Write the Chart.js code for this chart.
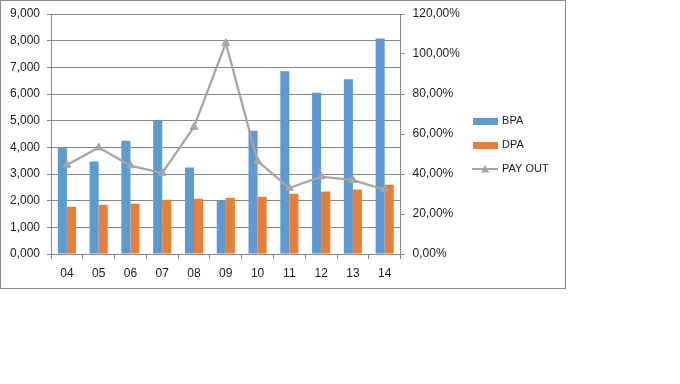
<!DOCTYPE html>
<html><head><meta charset="utf-8">
<script src="https://cdn.jsdelivr.net/npm/chart.js@4/dist/chart.umd.min.js"></script>
<style>
html,body{margin:0;padding:0;background:#fff;}
#box{position:absolute;left:0;top:0;width:566px;height:289px;border:1px solid #8a8a8a;box-sizing:border-box;}
#c{display:block;}
</style></head>
<body>
<div id="box"><canvas id="c" width="564" height="287"></canvas></div>
<script>
const categories = ['04','05','06','07','08','09','10','11','12','13','14'];
const bpa = [3.98, 3.47, 4.25, 5.00, 3.24, 1.99, 4.62, 6.85, 6.05, 6.55, 8.08];
const dpa = [1.77, 1.85, 1.88, 2.03, 2.07, 2.11, 2.15, 2.26, 2.34, 2.42, 2.60];
const payout = [44.5, 53.2, 44.2, 40.5, 63.5, 105.5, 46.5, 33.0, 38.7, 36.9, 32.2];
const leftTicks = [0,1,2,3,4,5,6,7,8,9];
const rightTicks = [0,20,40,60,80,100,120];

const BLUE = '#5B9BD5', ORANGE = '#ED7D31', GREY = '#A5A5A5';
const GRID = '#878787', TXT = '#1a1a1a';
const FONT = "'Liberation Sans', Arial, sans-serif";

function boxImg(color){
  const c = document.createElement('canvas'); c.width = 25; c.height = 7;
  const g = c.getContext('2d'); g.fillStyle = color; g.fillRect(0,0,25,7); return c;
}
function lineImg(){
  const c = document.createElement('canvas'); c.width = 26; c.height = 10;
  const g = c.getContext('2d');
  g.strokeStyle = GREY; g.lineWidth = 2; g.beginPath(); g.moveTo(0,5); g.lineTo(26,5); g.stroke();
  g.fillStyle = GREY; g.beginPath(); g.moveTo(13,1); g.lineTo(17,8.5); g.lineTo(9,8.5); g.closePath(); g.fill();
  return c;
}
const legendImgs = [boxImg(BLUE), boxImg(ORANGE), lineImg()];

const chart = new Chart(document.getElementById('c'), {
  type: 'bar',
  data: {
    labels: categories,
    datasets: [
      {label:'BPA', data:bpa, backgroundColor:BLUE, yAxisID:'y', order:2, categoryPercentage:0.57, barPercentage:1.0},
      {label:'DPA', data:dpa, backgroundColor:ORANGE, yAxisID:'y', order:2, categoryPercentage:0.57, barPercentage:1.0},
      {label:'PAY OUT', type:'line', data:payout, yAxisID:'y1', order:0, borderColor:GREY, backgroundColor:GREY,
       borderWidth:2.25, pointStyle:'triangle', pointRadius:4.5, pointBackgroundColor:GREY, pointBorderColor:GREY,
       pointBorderWidth:1, tension:0, fill:false}
    ]
  },
  options: {
    responsive:false, animation:false, devicePixelRatio:1,
    layout:{padding:{top:13,left:0,right:12.5,bottom:0}},
    plugins:{
      tooltip:{enabled:false},
      legend:{
        position:'right', align:'start',
        title:{display:true, text:'', font:{size:10}, padding:{top:76.5,bottom:0}},
        labels:{
          usePointStyle:true, pointStyleWidth:23, padding:13,
          color:TXT, font:{family:FONT, size:11},
          generateLabels(chart){
            return chart.data.datasets.map((d,i)=>({text:d.label, pointStyle:legendImgs[i], datasetIndex:i,
              fillStyle:'transparent', strokeStyle:'transparent', lineWidth:0, fontColor:TXT, hidden:false}));
          }
        }
      }
    },
    scales:{
      x:{
        grid:{display:true, drawOnChartArea:false, drawTicks:true, tickLength:5, color:GRID, offset:true},
        border:{display:true, color:GRID},
        ticks:{color:TXT, font:{family:FONT,size:12}, padding:7, maxRotation:0},
        afterFit(s){ s.height = 34; }
      },
      y:{
        position:'left', min:0, max:9,
        afterBuildTicks(s){ s.ticks = leftTicks.map(v=>({value:v})); },
        grid:{color:GRID, tickLength:4, drawTicks:true},
        border:{display:true, color:GRID},
        ticks:{color:TXT, font:{family:FONT,size:12}, padding:7,
          callback:v=>v.toFixed(3).replace('.',',')},
        afterFit(s){ s.width = 50; s.paddingTop = 0; s.paddingBottom = 0; }
      },
      y1:{
        position:'right', min:0, max:120,
        afterBuildTicks(s){ s.ticks = rightTicks.map(v=>({value:v})); },
        grid:{drawOnChartArea:false, drawTicks:true, tickLength:4, color:GRID},
        border:{display:true, color:GRID},
        ticks:{color:TXT, font:{family:FONT,size:12}, padding:8,
          callback:v=>v.toFixed(2).replace('.',',')+'%'},
        afterFit(s){ s.width = 60; s.paddingTop = 0; s.paddingBottom = 0; }
      }
    }
  }
});
</script>
</body></html>
